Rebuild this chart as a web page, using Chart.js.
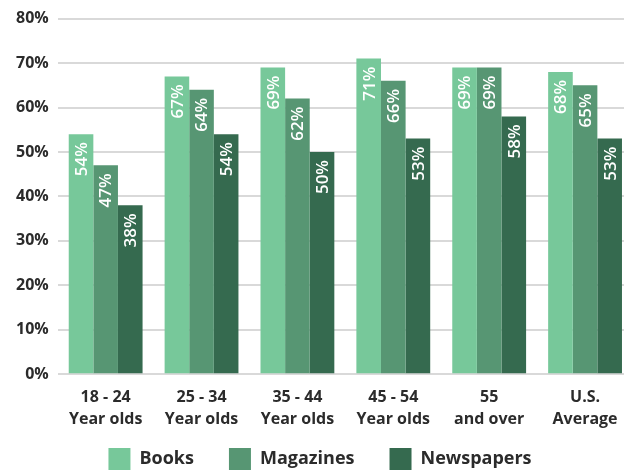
<!DOCTYPE html>
<html>
<head>
<meta charset="utf-8">
<script src="https://cdn.jsdelivr.net/npm/chart.js@4/dist/chart.umd.min.js"></script>
<style>
  html, body { margin: 0; padding: 0; background: #fff; overflow: hidden; }
  #wrap { width: 633px; height: 471px; }
</style>
</head>
<body>
<div id="wrap"><canvas id="myChart" width="633" height="471"></canvas></div>
<script>
var ageGroups = [["18 - 24", "Year olds"], ["25 - 34", "Year olds"], ["35 - 44", "Year olds"],
  ["45 - 54", "Year olds"], ["55", "and over"], ["U.S.", "Average"]];
var books = [54, 67, 69, 71, 69, 68];
var magazines = [47, 64, 62, 66, 69, 65];
var newspapers = [38, 54, 50, 53, 58, 53];
var barColors = ["#77c89a", "#579673", "#356a4f"];

// writes each value upright inside the top of its bar
var barValues = {
  id: "barValues",
  afterDatasetsDraw: function(chart) {
    var ctx = chart.ctx;
    chart.data.datasets.forEach(function(ds, i) {
      chart.getDatasetMeta(i).data.forEach(function(bar, j) {
        ctx.save();
        ctx.translate(bar.x, bar.y + 8);
        ctx.rotate(-Math.PI / 2);
        ctx.font = "600 17px 'Open Sans'";
        ctx.fillStyle = "#ffffff";
        ctx.textAlign = "right";
        ctx.textBaseline = "middle";
        ctx.fillText(ds.data[j] + "%", 0, 1);
        ctx.restore();
      });
    });
  }
};

// legend keeps wide item spacing but sits close under the axis labels
var legendSpacing = {
  id: "legendSpacing",
  beforeInit: function(chart) {
    var fit = chart.legend.fit;
    chart.legend.fit = function() {
      fit.call(this);
      this.height -= 39;
    };
  },
  afterLayout: function(chart) {
    chart.legend.top -= 30;
  }
};

new Chart("myChart", {
  type: "bar",
  data: {
    labels: ageGroups,
    datasets: [
      { label: "Books", data: books, backgroundColor: barColors[0] },
      { label: "Magazines", data: magazines, backgroundColor: barColors[1] },
      { label: "Newspapers", data: newspapers, backgroundColor: barColors[2] }
    ]
  },
  options: {
    responsive: false,
    animation: false,
    layout: { padding: { top: 8, left: 7, right: 0, bottom: 0 } },
    datasets: { bar: { barPercentage: 1, categoryPercentage: 0.77 } },
    scales: {
      x: {
        grid: { display: false, drawTicks: false },
        border: { display: false },
        ticks: {
          color: "#2b2b2b",
          font: { family: "Open Sans", size: 16, weight: "bold", lineHeight: 1.4 },
          padding: 12
        }
      },
      y: {
        min: 0,
        max: 80,
        border: { display: false },
        grid: { color: "#d9d9d9", lineWidth: 2, drawTicks: false },
        ticks: {
          stepSize: 10,
          padding: 9,
          color: "#2b2b2b",
          font: { family: "Open Sans", size: 16, weight: "bold" },
          callback: function(v) { return v + "%"; }
        }
      }
    },
    plugins: {
      legend: {
        position: "bottom",
        labels: {
          boxWidth: 22,
          boxHeight: 22,
          padding: 35,
          color: "#2b2b2b",
          font: { family: "Open Sans", size: 18, weight: "bold" }
        }
      },
      tooltip: { enabled: false }
    }
  },
  plugins: [barValues, legendSpacing]
});
</script>
</body>
</html>
